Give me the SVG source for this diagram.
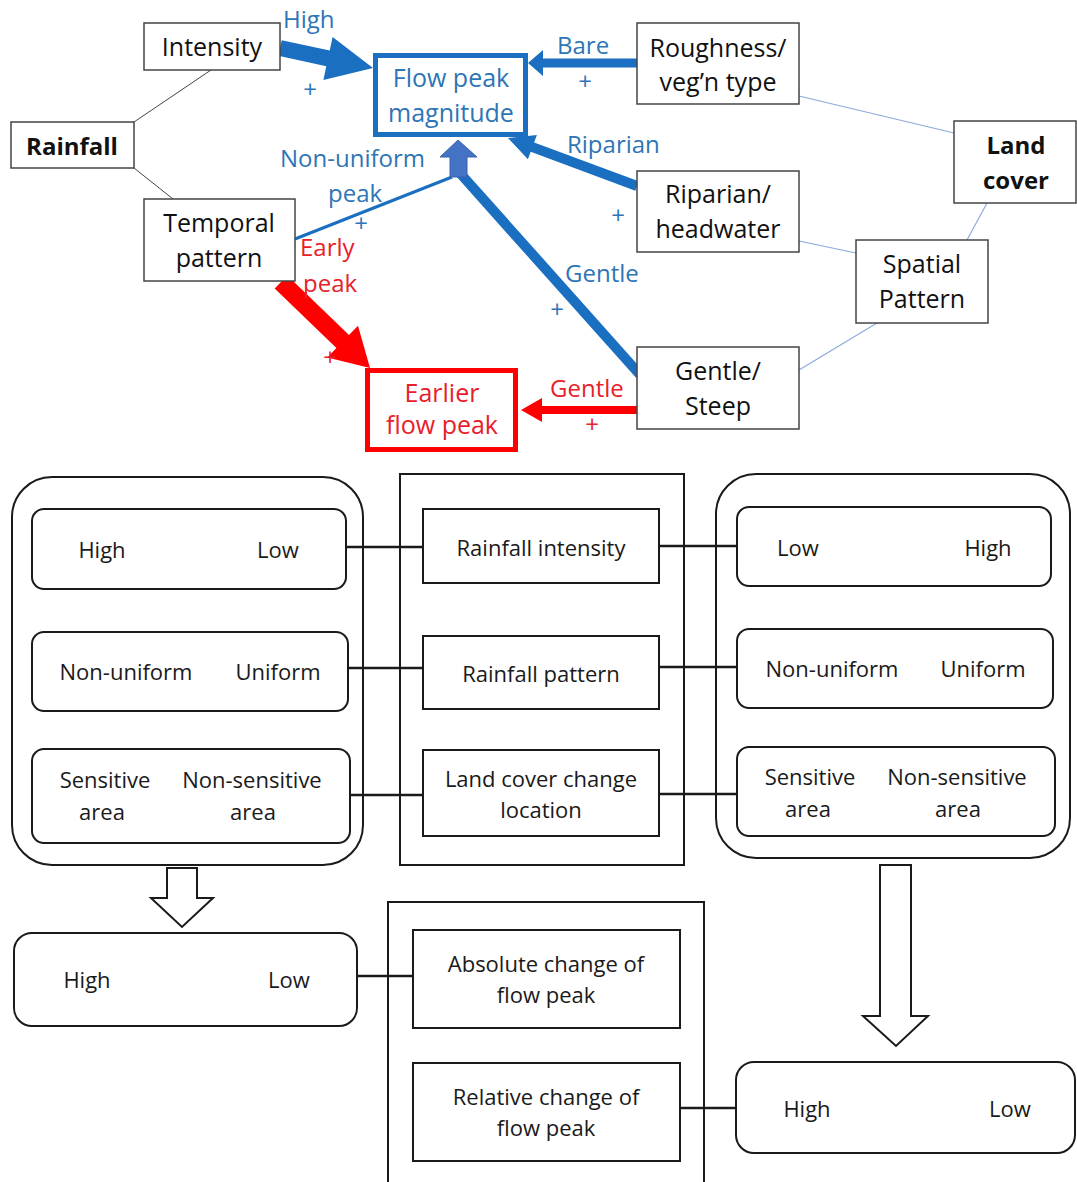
<svg xmlns="http://www.w3.org/2000/svg" width="1077" height="1182" viewBox="0 0 1077 1182">
<style>
text{font-family:"Open Sans","Liberation Sans",sans-serif;}
.t{font-size:25px;fill:#111;text-anchor:middle;}
.b{font-size:24px;font-weight:bold;fill:#111;text-anchor:middle;}
.bl{font-size:24px;fill:#2e75b6;}
.rd{font-size:24px;fill:#e8202a;}
.pb{font-size:24px;fill:#2e75b6;text-anchor:middle;}
.pr{font-size:24px;fill:#e8202a;text-anchor:middle;}
.s{font-size:22px;fill:#1a1a1a;text-anchor:middle;}
.box{fill:#fff;stroke:#444;stroke-width:1.5;}
.bx2{fill:#fff;stroke:#1a1a1a;stroke-width:2;}
.thin{stroke:#444;stroke-width:1;fill:none;}
.lc{stroke:#8eaadb;stroke-width:1.2;fill:none;}
.con{stroke:#1a1a1a;stroke-width:2.5;fill:none;}
.ba{fill:#1a6fc1;}
.ra{fill:#ff0000;}
</style>
<g id="connectors">
<line class="thin" x1="211" y1="70" x2="134" y2="122"/>
<line class="thin" x1="134" y1="168" x2="173" y2="199"/>
<line class="lc" x1="799" y1="96" x2="954" y2="133"/>
<line class="lc" x1="987" y1="203" x2="967" y2="240"/>
<line class="lc" x1="799" y1="241" x2="856" y2="253"/>
<line class="lc" x1="799" y1="370" x2="877" y2="323"/>
<polygon class="ba" points="278.3,55.8 326.3,66.2 323.4,79.9 373,68 332.6,36.9 329.7,50.6 281.7,40.2"/>
<polygon class="ba" points="637,58.5 543,58.5 543,50 528,63 543,76 543,67.5 637,67.5"/>
<polygon class="ba" points="638.7,181.3 534.1,142.4 536.9,134.9 508,138 527.9,159.3 530.7,151.8 635.3,190.7"/>
<line x1="295" y1="239" x2="452" y2="177" stroke="#1a6fc1" stroke-width="3"/>
<line x1="459" y1="172" x2="642" y2="377" stroke="#1a6fc1" stroke-width="10"/>
<polygon points="450,177 450,157 440,157 458,140 477,157 467,157 467,177" fill="#4472c4" stroke="#3a62b0" stroke-width="1"/>
<polygon class="ra" points="274.7,288.5 336.4,348.1 327.4,357.4 370,368 358,325.8 349,335.1 287.3,275.5"/>
<polygon class="ra" points="637,406 542,406 542,398 521,410 542,422 542,414 637,414"/>
<line class="con" x1="346" y1="547" x2="423" y2="547"/>
<line class="con" x1="348" y1="668" x2="423" y2="668"/>
<line class="con" x1="350" y1="795" x2="423" y2="795"/>
<line class="con" x1="659" y1="546" x2="737" y2="546"/>
<line class="con" x1="659" y1="667" x2="737" y2="667"/>
<line class="con" x1="659" y1="794" x2="737" y2="794"/>
<line class="con" x1="357" y1="976" x2="413" y2="976"/>
<line class="con" x1="680" y1="1108" x2="736" y2="1108"/>
</g>
<g id="labels">
<text class="bl" x="283" y="28">High</text>
<text class="pb" x="310" y="98">+</text>
<text class="bl" x="557" y="54">Bare</text>
<text class="pb" x="585" y="90">+</text>
<text class="bl" x="567" y="153">Riparian</text>
<text class="pb" x="618" y="224">+</text>
<text class="bl" x="280" y="167">Non-uniform</text>
<text class="bl" x="328" y="202">peak</text>
<text class="pb" x="361" y="232">+</text>
<text class="bl" x="565" y="282">Gentle</text>
<text class="pb" x="557" y="318">+</text>
<text class="rd" x="300" y="256">Early</text>
<text class="rd" x="303" y="292">peak</text>
<text class="pr" x="330" y="366">+</text>
<text class="rd" x="550" y="397">Gentle</text>
<text class="pr" x="592" y="433">+</text>
</g>
<g id="intensity"><rect class="box" x="144" y="23" width="136" height="47"/><text class="t" x="212" y="56">Intensity</text></g>
<g id="rainfall"><rect class="box" x="11" y="122" width="123" height="46"/><text class="b" x="72" y="155">Rainfall</text></g>
<g id="temporal"><rect class="box" x="144" y="199" width="151" height="82"/><text class="t" x="219" y="232">Temporal</text><text class="t" x="219" y="267">pattern</text></g>
<g id="flowpeak"><rect x="375.5" y="55.5" width="150" height="79" fill="#fff" stroke="#1a6fc1" stroke-width="5"/><text class="t" x="451" y="87" style="fill:#2e75b6">Flow peak</text><text class="t" x="451" y="122" style="fill:#2e75b6">magnitude</text></g>
<g id="roughness"><rect class="box" x="637" y="23" width="162" height="81"/><text class="t" x="718" y="57">Roughness/</text><text class="t" x="718" y="91">veg’n type</text></g>
<g id="riparian"><rect class="box" x="637" y="171" width="162" height="81"/><text class="t" x="718" y="203">Riparian/</text><text class="t" x="718" y="238">headwater</text></g>
<g id="gentle"><rect class="box" x="637" y="347" width="162" height="82"/><text class="t" x="718" y="380">Gentle/</text><text class="t" x="718" y="415">Steep</text></g>
<g id="landcover"><rect class="box" x="954" y="121" width="122" height="82"/><text class="b" x="1016" y="154">Land</text><text class="b" x="1016" y="189">cover</text></g>
<g id="spatial"><rect class="box" x="856" y="240" width="132" height="83"/><text class="t" x="922" y="273">Spatial</text><text class="t" x="922" y="308">Pattern</text></g>
<g id="earlier"><rect x="367.5" y="370.5" width="148" height="79" fill="#fff" stroke="#ff0000" stroke-width="5"/><text class="t" x="442" y="402" style="fill:#e8202a">Earlier</text><text class="t" x="442" y="434" style="fill:#e8202a">flow peak</text></g>
<g id="left-group">
<rect x="12" y="477" width="351" height="388" rx="40" fill="none" stroke="#1a1a1a" stroke-width="2"/>
<rect class="bx2" x="32" y="509" width="314" height="80" rx="12"/>
<text class="s" x="102" y="558">High</text><text class="s" x="278" y="558">Low</text>
<rect class="bx2" x="32" y="632" width="316" height="79" rx="12"/>
<text class="s" x="126" y="680">Non-uniform</text><text class="s" x="278" y="680">Uniform</text>
<rect class="bx2" x="32" y="749" width="318" height="94" rx="12"/>
<text class="s" x="105" y="788">Sensitive</text><text class="s" x="102" y="820">area</text>
<text class="s" x="252" y="788">Non-sensitive</text><text class="s" x="253" y="820">area</text>
</g>
<g id="middle-group">
<rect x="400" y="474" width="284" height="391" fill="none" stroke="#1a1a1a" stroke-width="2"/>
<rect class="bx2" x="423" y="509" width="236" height="74"/><text class="s" x="541" y="556">Rainfall intensity</text>
<rect class="bx2" x="423" y="636" width="236" height="73"/><text class="s" x="541" y="682">Rainfall pattern</text>
<rect class="bx2" x="423" y="750" width="236" height="86"/><text class="s" x="541" y="787">Land cover change</text><text class="s" x="541" y="818">location</text>
</g>
<g id="right-group">
<rect x="716" y="474" width="354" height="384" rx="40" fill="none" stroke="#1a1a1a" stroke-width="2"/>
<rect class="bx2" x="737" y="507" width="314" height="79" rx="12"/>
<text class="s" x="798" y="556">Low</text><text class="s" x="988" y="556">High</text>
<rect class="bx2" x="737" y="629" width="316" height="79" rx="12"/>
<text class="s" x="832" y="677">Non-uniform</text><text class="s" x="983" y="677">Uniform</text>
<rect class="bx2" x="737" y="747" width="318" height="89" rx="12"/>
<text class="s" x="810" y="785">Sensitive</text><text class="s" x="808" y="817">area</text>
<text class="s" x="957" y="785">Non-sensitive</text><text class="s" x="958" y="817">area</text>
</g>
<g id="arrow-left"><polygon points="167,868 197,868 197,898 213,898 182,927 151,898 167,898" fill="#fff" stroke="#1a1a1a" stroke-width="2"/></g>
<g id="arrow-right"><polygon points="880,865 911,865 911,1016 928,1016 896,1046 863,1016 880,1016" fill="#fff" stroke="#1a1a1a" stroke-width="2"/></g>
<g id="result-left"><rect class="bx2" x="14" y="933" width="343" height="93" rx="18"/><text class="s" x="87" y="988">High</text><text class="s" x="289" y="988">Low</text></g>
<g id="change-group">
<rect x="388" y="902" width="316" height="300" fill="none" stroke="#1a1a1a" stroke-width="2"/>
<rect class="bx2" x="413" y="930" width="267" height="98"/><text class="s" x="546" y="972">Absolute change of</text><text class="s" x="546" y="1003">flow peak</text>
<rect class="bx2" x="413" y="1063" width="267" height="98"/><text class="s" x="546" y="1105">Relative change of</text><text class="s" x="546" y="1136">flow peak</text>
</g>
<g id="result-right"><rect class="bx2" x="736" y="1062" width="339" height="91" rx="18"/><text class="s" x="807" y="1117">High</text><text class="s" x="1010" y="1117">Low</text></g>
</svg>
